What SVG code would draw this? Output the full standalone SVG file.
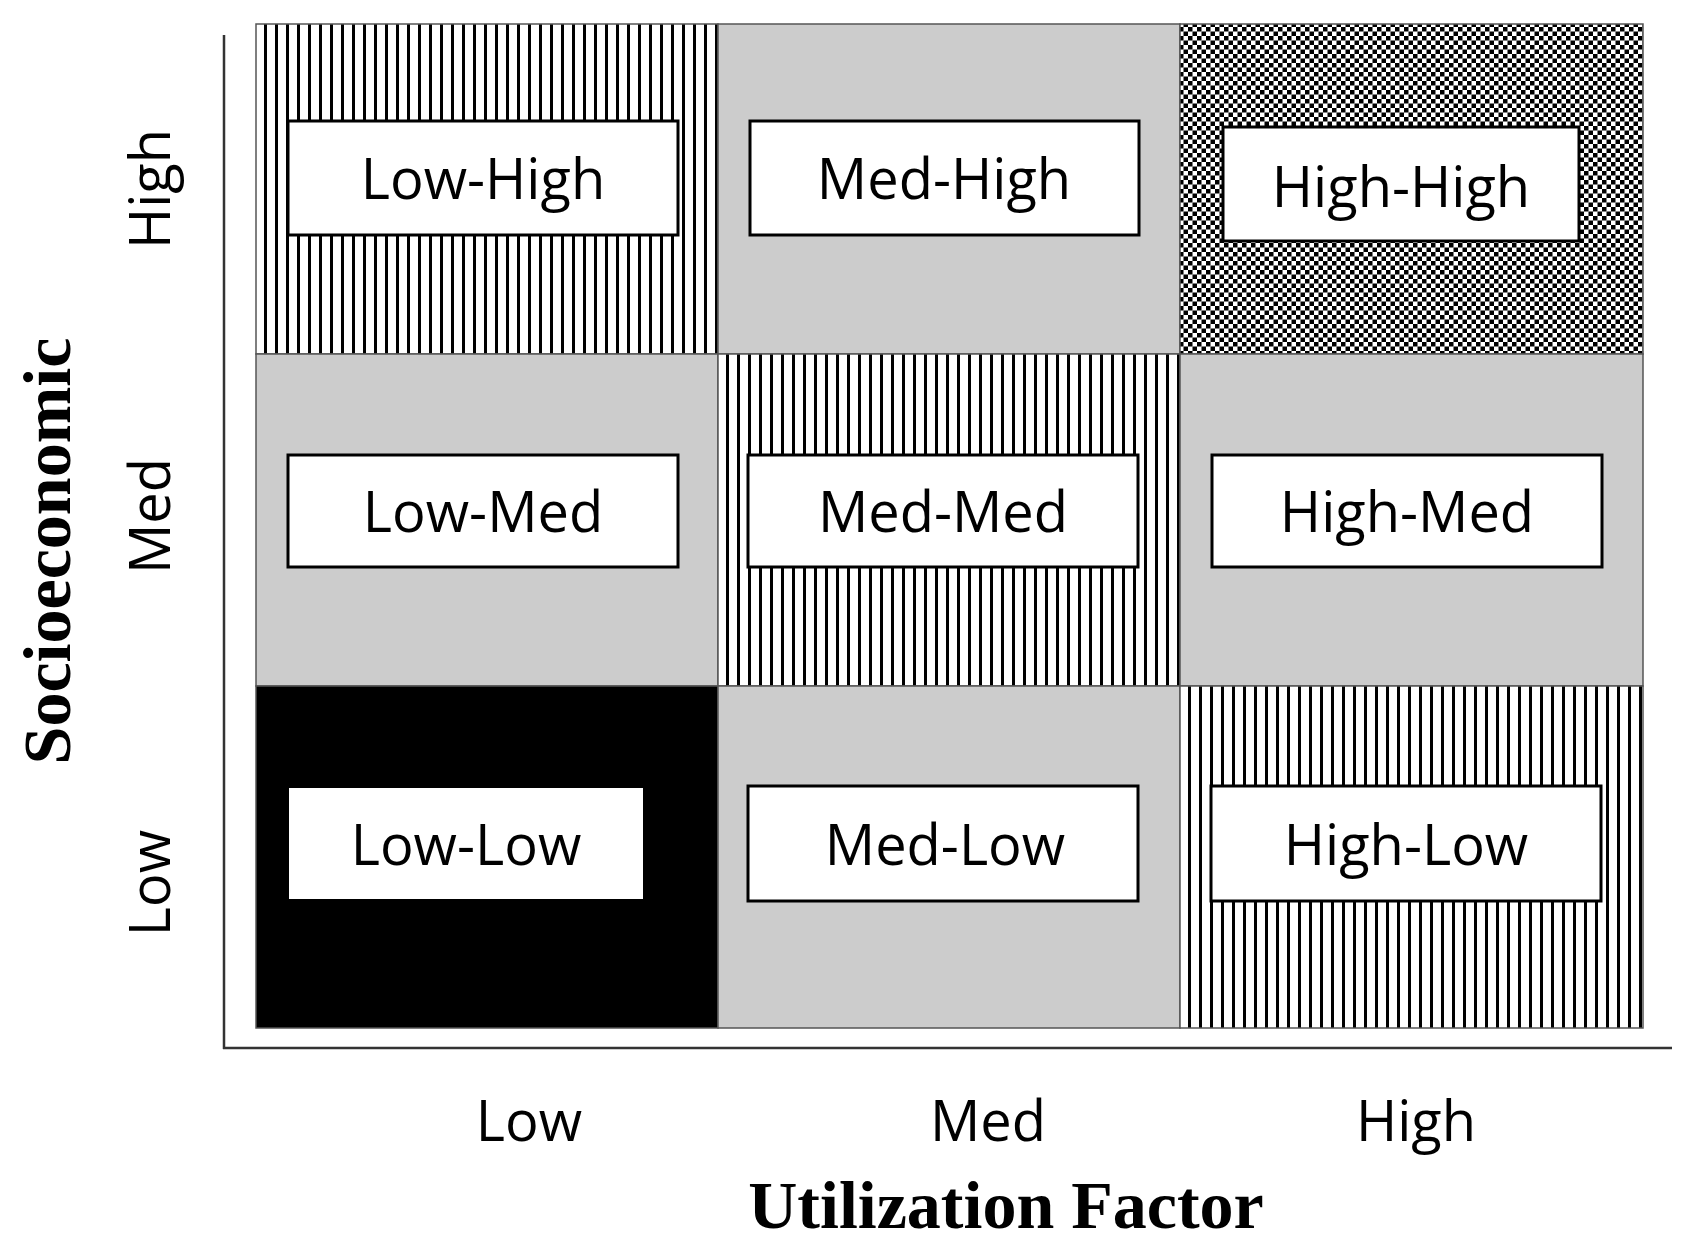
<svg xmlns="http://www.w3.org/2000/svg" width="1693" height="1248" viewBox="0 0 1693 1248">
<defs>
<pattern id="vs" width="11" height="10" patternUnits="userSpaceOnUse"><rect width="11" height="10" fill="#fff"/><rect x="0" width="3" height="10" fill="#000"/></pattern>
<pattern id="ck" width="9" height="9" patternUnits="userSpaceOnUse"><rect width="9" height="9" fill="#fff"/><rect width="4.5" height="4.5" fill="#000"/><rect x="4.5" y="4.5" width="4.5" height="4.5" fill="#000"/></pattern>
</defs>
<style>
.cell{stroke:#555;stroke-width:1.5}
.box{fill:#fff;stroke:#000;stroke-width:3}
.lbl{font-family:"Open Sans",sans-serif;font-size:56px;text-anchor:middle;fill:#000}
.ttl{font-family:"Liberation Serif",serif;font-weight:bold;font-size:68px;text-anchor:middle;fill:#000}
</style>
<rect width="1693" height="1248" fill="#fff"/>
<g id="cells">
<rect class="cell" x="256" y="24" width="462" height="330" fill="url(#vs)"/>
<rect class="cell" x="718" y="24" width="462" height="330" fill="#cccccc"/>
<rect class="cell" x="1180" y="24" width="463" height="330" fill="url(#ck)"/>
<rect class="cell" x="256" y="354" width="462" height="332" fill="#cccccc"/>
<rect class="cell" x="718" y="354" width="462" height="332" fill="url(#vs)"/>
<rect class="cell" x="1180" y="354" width="463" height="332" fill="#cccccc"/>
<rect class="cell" x="256" y="686" width="462" height="342" fill="#000"/>
<rect class="cell" x="718" y="686" width="462" height="342" fill="#cccccc"/>
<rect class="cell" x="1180" y="686" width="463" height="342" fill="url(#vs)"/>
</g>
<g id="axes" stroke="#333" stroke-width="2.5" fill="none">
<line x1="224" y1="35" x2="224" y2="1049"/>
<line x1="223" y1="1048" x2="1672" y2="1048"/>
</g>
<g id="n-lowhigh"><rect class="box" x="288" y="121" width="390" height="114"/><text class="lbl" x="483" y="199">Low-High</text></g>
<g id="n-medhigh"><rect class="box" x="750" y="121" width="389" height="114"/><text class="lbl" x="944" y="199">Med-High</text></g>
<g id="n-highhigh"><rect class="box" x="1223" y="127" width="356" height="114"/><text class="lbl" x="1401" y="207">High-High</text></g>
<g id="n-lowmed"><rect class="box" x="288" y="455" width="390" height="112"/><text class="lbl" x="483" y="532">Low-Med</text></g>
<g id="n-medmed"><rect class="box" x="748" y="455" width="390" height="112"/><text class="lbl" x="943" y="532">Med-Med</text></g>
<g id="n-highmed"><rect class="box" x="1212" y="455" width="390" height="112"/><text class="lbl" x="1407" y="532">High-Med</text></g>
<g id="n-lowlow"><rect x="289" y="788" width="354" height="111" fill="#fff"/><text class="lbl" x="466" y="865">Low-Low</text></g>
<g id="n-medlow"><rect class="box" x="748" y="786" width="390" height="115" fill="#fff"/><text class="lbl" x="945" y="865">Med-Low</text></g>
<g id="n-highlow"><rect class="box" x="1211" y="786" width="390" height="115"/><text class="lbl" x="1406" y="865">High-Low</text></g>
<g id="ticks">
<text class="lbl" x="529" y="1141">Low</text>
<text class="lbl" x="988" y="1141">Med</text>
<text class="lbl" x="1416" y="1141">High</text>
<text class="lbl" transform="translate(170,189) rotate(-90)">High</text>
<text class="lbl" transform="translate(170,516) rotate(-90)">Med</text>
<text class="lbl" transform="translate(170,883) rotate(-90)">Low</text>
</g>
<g id="titles">
<text class="ttl" x="1006" y="1228">Utilization Factor</text>
<text class="ttl" transform="translate(70,551) rotate(-90)">Socioeconomic</text>
</g>
</svg>
